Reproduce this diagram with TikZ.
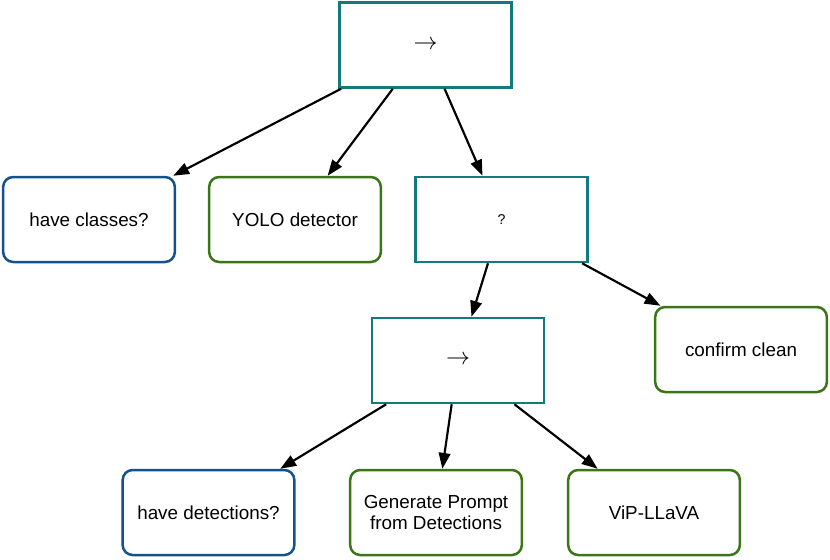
\documentclass[tikz,border=0pt]{standalone}
\usepackage{fontspec}
\setmainfont{Liberation Sans}
\usepackage{tikz}
\usetikzlibrary{arrows.meta}
\definecolor{Verdeazul}{RGB}{18, 122, 122}
\definecolor{Azul}{RGB}{20, 82, 140}
\definecolor{Verde}{RGB}{58, 118, 22}

\begin{document}
\begin{tikzpicture}[
        x=0.6pt, y=-0.6pt,
        ctrl/.style={rectangle, draw=Verdeazul, fill=white, line width=1.5pt, minimum width=103pt, minimum height=51pt, align=center},
        cond/.style={rectangle, rounded corners=6pt, draw=Azul, fill=white, line width=1.5pt, minimum width=103pt, minimum height=51pt, align=center, font=\fontsize{11.3}{12.2}\selectfont},
        act/.style={rectangle, rounded corners=6pt, draw=Verde, fill=white, line width=1.5pt, minimum width=103pt, minimum height=51pt, align=center, font=\fontsize{11.3}{12.2}\selectfont},
        edge/.style={draw=black, line width=1.3pt, -{Triangle[length=9.5pt, width=7pt]}}
    ]%
        \useasboundingbox (0,0) rectangle (830,559);
        % ================= NIVEL SUPERIOR =================
        \node[ctrl, font=\fontsize{14}{16}\selectfont] (root) at (425.5, 45) {$\rightarrow$};
        % ================= NIVEL 1 =================
        \node[cond] (hasclasses) at (89, 219.5) {have classes?};
        \node[act] (yolo) at (295, 219.5) {YOLO detector};
        \node[ctrl, font=\fontsize{8.5}{10}\selectfont] (fallback) at (501.5, 219.5) {?};
        % ================= NIVEL 2 =================
        \node[ctrl, font=\fontsize{14}{16}\selectfont] (seq) at (458, 360.5) {$\rightarrow$};
        \node[act] (clean) at (741, 349.5) {confirm clean};
        % ================= NIVEL 3 =================
        \node[cond] (hasdet) at (208.5, 512.5) {have detections?};
        \node[act] (prompt) at (436, 512.5) {Generate Prompt\\from Detections};
        \node[act] (vip) at (654, 512.5) {ViP-LLaVA};
        % ================= CONEXIONES =================
        \draw[edge] (root) -- (hasclasses);
        \draw[edge] (root) -- (yolo);
        \draw[edge] (root) -- (fallback);
        \draw[edge] (fallback) -- (seq);
        \draw[edge] (fallback) -- (clean);
        \draw[edge] (seq) -- (hasdet);
        \draw[edge] (seq) -- (prompt);
        \draw[edge] (seq) -- (vip);
    \end{tikzpicture}
\end{document}
